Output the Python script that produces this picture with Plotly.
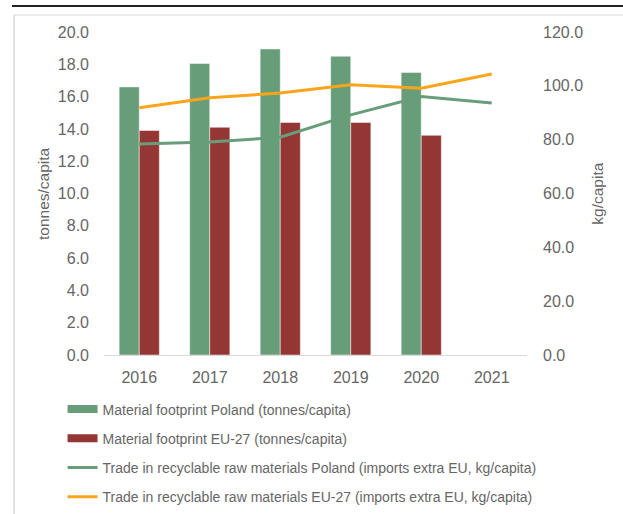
import plotly.graph_objects as go

years = ["2016", "2017", "2018", "2019", "2020", "2021"]
mf_poland = [16.6, 18.05, 18.95, 18.5, 17.5, None]
mf_eu27 = [13.9, 14.1, 14.4, 14.4, 13.6, None]
trade_poland = [78.4, 79.1, 80.9, 89.2, 96.0, 93.6]
trade_eu27 = [91.9, 95.6, 97.3, 100.4, 99.1, 104.4]

names = [
    "Material footprint Poland (tonnes/capita)",
    "Material footprint EU-27 (tonnes/capita)",
    "Trade in recyclable raw materials Poland (imports extra EU, kg/capita)",
    "Trade in recyclable raw materials EU-27 (imports extra EU, kg/capita)",
]
left_ticks = [0, 2, 4, 6, 8, 10, 12, 14, 16, 18, 20]
right_ticks = [0, 20, 40, 60, 80, 100, 120]

GREEN = "#679E79"
RED = "#943634"
ORANGE = "#F9A51C"
GRAY = "#666666"

fig = go.Figure()
fig.add_trace(go.Bar(x=years, y=mf_poland, name=names[0], marker=dict(color=GREEN, line=dict(color="rgba(255,255,255,0.6)", width=0.8)), showlegend=False))
fig.add_trace(go.Bar(x=years, y=mf_eu27, name=names[1], marker=dict(color=RED, line=dict(color="rgba(255,255,255,0.6)", width=0.8)), showlegend=False))
fig.add_trace(go.Scatter(x=years, y=trade_poland, name=names[2], mode="lines", line=dict(color=GREEN, width=3), yaxis="y2", showlegend=False))
fig.add_trace(go.Scatter(x=years, y=trade_eu27, name=names[3], mode="lines", line=dict(color=ORANGE, width=3), yaxis="y2", showlegend=False))

# legend entries
legend_styles = [(GREEN, 8), (RED, 8), (GREEN, 3), (ORANGE, 3)]
for i, (n, (c, w)) in enumerate(zip(names, legend_styles)):
    fig.add_trace(go.Scatter(x=[None], y=[None], name=n, mode="lines", line=dict(color=c, width=w), legendgroup=f"g{i}", showlegend=True))

fig.update_layout(
    width=623, height=514,
    margin=dict(l=104, r=96, t=32, b=159, autoexpand=False),
    paper_bgcolor="white", plot_bgcolor="white",
    font=dict(family="Liberation Sans, Arial, sans-serif", color=GRAY, size=16),
    barmode="group", bargap=0.43, bargroupgap=0,
    xaxis=dict(type="category", showgrid=False, showline=True, linecolor="#D9D9D9", linewidth=1,
               ticks="", tickfont=dict(size=16, color=GRAY), ticklabelstandoff=8, zeroline=False),
    yaxis=dict(range=[0, 20], tickvals=left_ticks, ticktext=[f"{v:.1f}" for v in left_ticks],
               showgrid=False, zeroline=False, showline=False, ticks="", ticklabelstandoff=14,
               tickfont=dict(size=16, color=GRAY)),
    yaxis2=dict(range=[0, 120], tickvals=right_ticks, ticktext=[f"{v:.1f}" for v in right_ticks],
                overlaying="y", side="right", showgrid=False, zeroline=False, showline=False, ticks="",
                ticklabelstandoff=15, tickfont=dict(size=16, color=GRAY)),
    legend=dict(x=-0.098, xanchor="left", y=-0.119, yanchor="top", traceorder="grouped",
                tracegroupgap=8, itemwidth=30, font=dict(size=14, color=GRAY), bgcolor="rgba(0,0,0,0)"),
    annotations=[
        dict(text="tonnes/capita", textangle=-90, xref="paper", yref="paper", x=-0.143, y=0.5,
             xanchor="center", yanchor="middle", showarrow=False, font=dict(size=15.5, color=GRAY)),
        dict(text="kg/capita", textangle=-90, xref="paper", yref="paper", x=1.166, y=0.5,
             xanchor="center", yanchor="middle", showarrow=False, font=dict(size=15.5, color=GRAY)),
    ],
    shapes=[
        dict(type="line", xref="paper", yref="paper", x0=(12 - 104) / 423, x1=(623 - 104) / 423,
             y0=(355 - 6) / 323, y1=(355 - 6) / 323, line=dict(color="#222222", width=2)),
        dict(type="line", xref="paper", yref="paper", x0=(14 - 104) / 423, x1=(623 - 104) / 423,
             y0=(355 - 15) / 323, y1=(355 - 15) / 323, line=dict(color="#D9D9D9", width=1)),
        dict(type="line", xref="paper", yref="paper", x0=(14 - 104) / 423, x1=(14 - 104) / 423,
             y0=(355 - 15) / 323, y1=(355 - 514) / 323, line=dict(color="#D9D9D9", width=1.5)),
    ],
)

fig.write_html("out.html", config={"displayModeBar": False},
               post_script="document.body.style.margin='0';")
